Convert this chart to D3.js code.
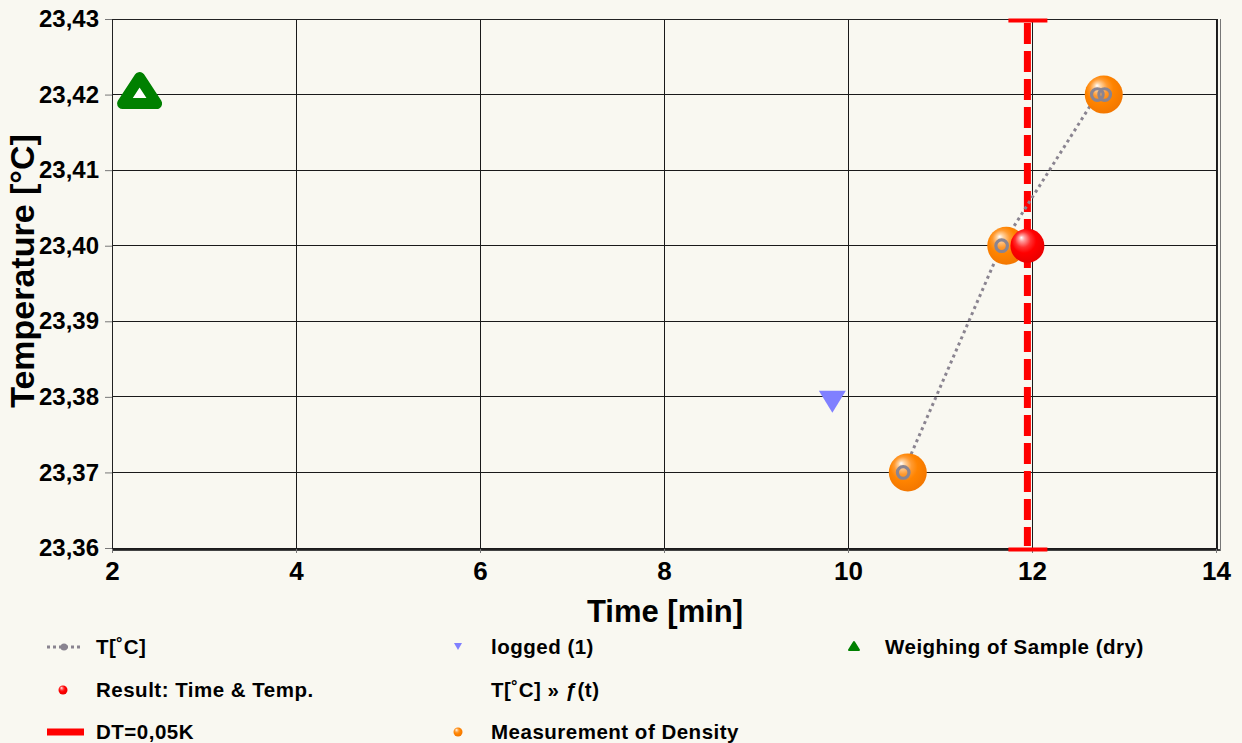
<!DOCTYPE html>
<html>
<head>
<meta charset="utf-8">
<script src="https://cdn.jsdelivr.net/npm/d3@7"></script>
<style>
  html, body { margin: 0; padding: 0; background: #f9f8f1; }
  svg { display: block; }
  text { font-family: "Liberation Sans", Arial, sans-serif; font-weight: bold; fill: #000; }
</style>
</head>
<body>
<svg id="chart" width="1242" height="743"></svg>
<script>
// Axis ticks
const xTicks = [2, 4, 6, 8, 10, 12, 14];
const yTicks = [23.36, 23.37, 23.38, 23.39, 23.40, 23.41, 23.42, 23.43];

// T[°C] series (dotted line with ring markers)
const tempTime = [10.60, 11.67, 12.71, 12.79];
const tempVal  = [23.37, 23.40, 23.42, 23.42];

// Measurement of Density
const densityTime = [10.65, 11.72, 12.78];
const densityVal  = [23.37, 23.40, 23.42];

// Result: Time & Temp.
const resultTime = [11.95];
const resultVal  = [23.40];

// logged (1)
const loggedTime = [9.83];
const loggedVal  = [23.38];

// Weighing of Sample (dry)
const weighTime = [2.30];
const weighVal  = [23.42];

// DT=0,05K marker line
const dtTime  = [11.95];
const dtRange = [23.36, 23.43];

// Legend entries
const legendLabels = [
  "T[˚C]", "logged (1)", "Weighing of Sample (dry)",
  "Result: Time & Temp.", "T[˚C] » ƒ(t)", "",
  "DT=0,05K", "Measurement of Density"
];

const svg = d3.select("#chart");
const plot = { left: 112, right: 1217, top: 19, bottom: 549 };

const x = d3.scaleLinear().domain([2, 14]).range([plot.left, plot.right - 1]);
const y = d3.scaleLinear().domain([23.36, 23.43]).range([plot.bottom - 1, plot.top]);

const fmt = v => d3.format(".2f")(v).replace(".", ",");

// Gradients for glossy balls
const defs = svg.append("defs");
function ball(id, stops) {
  const g = defs.append("radialGradient").attr("id", id)
    .attr("cx", "45%").attr("cy", "42%").attr("r", "60%")
    .attr("fx", "32%").attr("fy", "26%");
  stops.forEach(s => g.append("stop").attr("offset", s[0]).attr("stop-color", s[1]));
}
ball("orangeBall", [[0, "#ffffff"], [0.14, "#ffd2a0"], [0.38, "#ff9a30"], [0.6, "#ff8400"], [1, "#f27600"]]);
ball("redBall", [[0, "#ffffff"], [0.14, "#ffa0a0"], [0.38, "#ff3030"], [0.6, "#ff0000"], [1, "#e80000"]]);

// Grid
const grid = svg.append("g").attr("shape-rendering", "crispEdges");
grid.selectAll(".gx").data(xTicks).join("line")
  .attr("x1", d => x(d)).attr("x2", d => x(d))
  .attr("y1", plot.top).attr("y2", plot.bottom)
  .attr("stroke", "#1a1a1a").attr("stroke-width", 1);
grid.selectAll(".gy").data(yTicks).join("line")
  .attr("x1", plot.left).attr("x2", plot.right)
  .attr("y1", d => y(d)).attr("y2", d => y(d))
  .attr("stroke", "#1a1a1a").attr("stroke-width", 1);

// Frame
const frame = svg.append("g").attr("shape-rendering", "crispEdges");
frame.append("line").attr("x1", plot.right + 3).attr("x2", plot.right + 3)
  .attr("y1", plot.top).attr("y2", plot.bottom + 2).attr("stroke", "#777");
frame.append("line").attr("x1", plot.left).attr("x2", plot.right + 3)
  .attr("y1", plot.bottom + 1).attr("y2", plot.bottom + 1).attr("stroke", "#444").attr("stroke-width", 2);
frame.append("rect").attr("x", plot.left).attr("y", plot.top)
  .attr("width", plot.right - plot.left).attr("height", plot.bottom - plot.top)
  .attr("fill", "none").attr("stroke", "#222");

// Axes (ticks + labels)
const yAxis = d3.axisLeft(y).tickValues(yTicks).tickFormat(fmt).tickSize(7).tickPadding(6);
const gy = svg.append("g").attr("transform", `translate(${plot.left},0)`).call(yAxis);
gy.select(".domain").remove();
gy.selectAll(".tick line").attr("stroke", "#777");
gy.selectAll(".tick text").attr("font-size", 24).attr("font-family", "'Liberation Sans Narrow', 'Liberation Sans', Arial, sans-serif")
  .attr("font-weight", "bold").attr("fill", "#000");

const xAxis = d3.axisBottom(x).tickValues(xTicks).tickFormat(d3.format("d")).tickSize(4).tickPadding(9);
const gx = svg.append("g").attr("transform", `translate(0,${plot.bottom})`).call(xAxis);
gx.select(".domain").remove();
gx.selectAll(".tick line").attr("stroke", "#777");
gx.selectAll(".tick text").attr("font-size", 26).attr("font-weight", "bold").attr("fill", "#000");

// Axis titles
svg.append("text").attr("x", 665).attr("y", 622).attr("text-anchor", "middle")
  .attr("font-size", 31).text("Time [min]");
svg.append("text").attr("transform", "translate(34,271) rotate(-90)").attr("text-anchor", "middle")
  .attr("font-size", 34).text("Temperature [°C]");

// DT=0,05K dashed line with caps
const dtG = svg.append("g");
dtG.selectAll(".dt").data(dtTime).join("line")
  .attr("x1", d => x(d)).attr("x2", d => x(d))
  .attr("y1", y(dtRange[1]) + 4).attr("y2", y(dtRange[0]) - 2)
  .attr("stroke", "#ff0000").attr("stroke-width", 7).attr("stroke-dasharray", "21,7");
dtRange.forEach(v => {
  dtG.selectAll(null).data(dtTime).join("line")
    .attr("x1", d => x(d) - 19).attr("x2", d => x(d) + 20)
    .attr("y1", y(v) + 1.5).attr("y2", y(v) + 1.5)
    .attr("stroke", "#ff0000").attr("stroke-width", 4);
});

// T[°C] dotted line
const tempPts = tempTime.map((t, i) => [t, tempVal[i]]);
svg.append("path").datum(tempPts)
  .attr("d", d3.line().x(d => x(d[0])).y(d => y(d[1])))
  .attr("fill", "none").attr("stroke", "#8a8490").attr("stroke-width", 3)
  .attr("stroke-dasharray", "3,3.6");

// Density balls
svg.selectAll(".density").data(densityTime.map((t, i) => [t, densityVal[i]])).join("circle")
  .attr("cx", d => x(d[0])).attr("cy", d => y(d[1])).attr("r", 19)
  .attr("fill", "url(#orangeBall)");

// T[°C] ring markers
svg.selectAll(".ring").data(tempPts).join("circle")
  .attr("cx", d => x(d[0])).attr("cy", d => y(d[1])).attr("r", 5.8)
  .attr("fill", "none").attr("stroke", "#8a8490").attr("stroke-width", 3.2);

// Result ball
svg.selectAll(".result").data(resultTime.map((t, i) => [t, resultVal[i]])).join("circle")
  .attr("cx", d => x(d[0])).attr("cy", d => y(d[1])).attr("r", 17)
  .attr("fill", "url(#redBall)");

// logged (1) - down triangle
svg.selectAll(".logged").data(loggedTime.map((t, i) => [t, loggedVal[i]])).join("path")
  .attr("d", d => {
    const cx = x(d[0]), cy = y(d[1]);
    return `M${cx - 13.5},${cy - 6}L${cx + 13.5},${cy - 6}L${cx},${cy + 16}Z`;
  })
  .attr("fill", "#8080ff");

// Weighing of Sample (dry) - hollow triangle
svg.selectAll(".weigh").data(weighTime.map((t, i) => [t, weighVal[i]])).join("path")
  .attr("d", d => {
    const cx = x(d[0]), cy = y(d[1]);
    return `M${cx},${cy - 17}L${cx + 17},${cy + 9}L${cx - 17},${cy + 9}Z`;
  })
  .attr("fill", "#ffffff").attr("stroke", "#008000").attr("stroke-width", 11)
  .attr("stroke-linejoin", "round");

// Legend
const colX = [47, 458, 854];
const textX = [96, 491, 885];
const rowY = [647, 690, 732];
const leg = svg.append("g");
legendLabels.forEach((lab, i) => {
  if (!lab) return;
  const c = i % 3, r = Math.floor(i / 3);
  leg.append("text").attr("x", textX[c]).attr("y", rowY[r] + 7)
    .attr("font-size", 20.5).attr("letter-spacing", 0.5).text(lab);
});
// T[°C] symbol
leg.append("line").attr("x1", colX[0]).attr("x2", colX[0] + 36).attr("y1", rowY[0]).attr("y2", rowY[0])
  .attr("stroke", "#8a8490").attr("stroke-width", 3).attr("stroke-dasharray", "3,3");
leg.append("circle").attr("cx", colX[0] + 17).attr("cy", rowY[0]).attr("r", 3.5).attr("fill", "#8a8490");
// logged symbol
leg.append("path").attr("d", `M${colX[1] - 4},${rowY[0] - 4}L${colX[1] + 4},${rowY[0] - 4}L${colX[1]},${rowY[0] + 3}Z`)
  .attr("fill", "#8080ff");
// weighing symbol
leg.append("path").attr("d", `M${colX[2]},${rowY[0] - 5}L${colX[2] + 5},${rowY[0] + 3}L${colX[2] - 5},${rowY[0] + 3}Z`)
  .attr("fill", "#008000").attr("stroke", "#008000").attr("stroke-width", 2).attr("stroke-linejoin", "round");
// result symbol
leg.append("circle").attr("cx", colX[0] + 16).attr("cy", rowY[1]).attr("r", 4.5).attr("fill", "url(#redBall)");
// DT symbol
leg.append("line").attr("x1", colX[0]).attr("x2", colX[0] + 37).attr("y1", rowY[2]).attr("y2", rowY[2])
  .attr("stroke", "#ff0000").attr("stroke-width", 7);
// density symbol
leg.append("circle").attr("cx", colX[1]).attr("cy", rowY[2]).attr("r", 4.5).attr("fill", "url(#orangeBall)");
</script>
</body>
</html>
